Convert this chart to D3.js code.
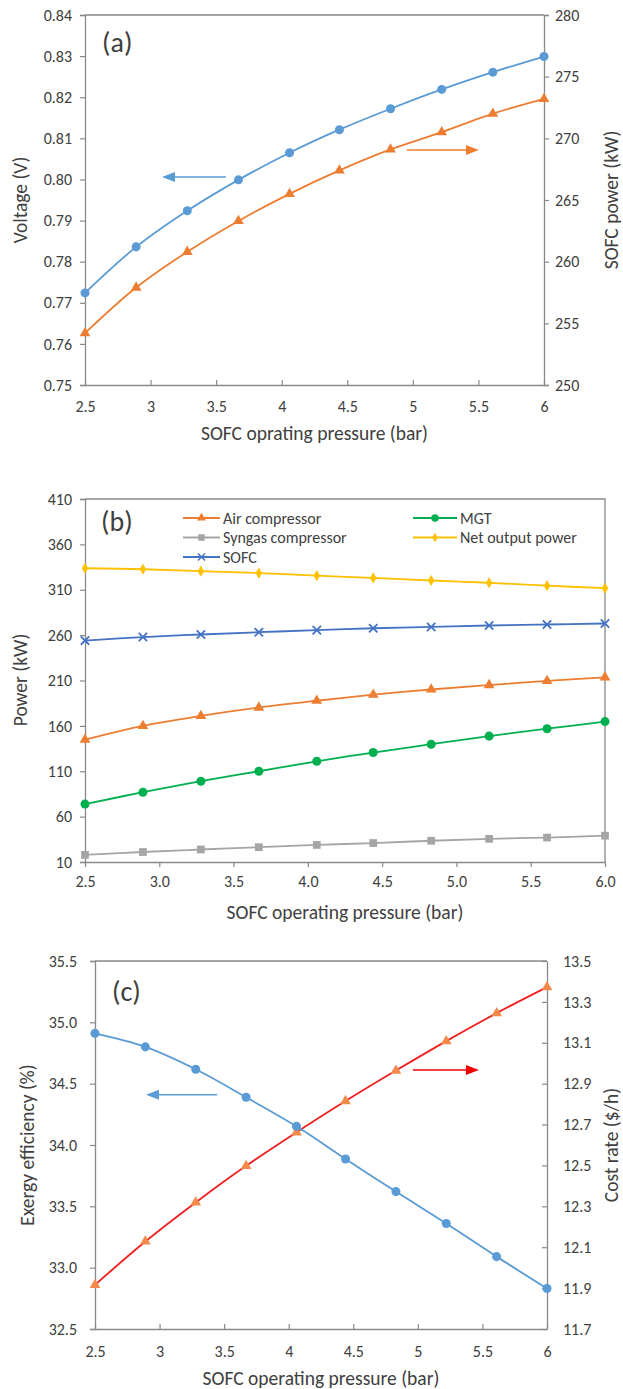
<!DOCTYPE html>
<html>
<head>
<meta charset="utf-8">
<script src="https://cdn.jsdelivr.net/npm/d3@7"></script>
<style>
body { margin: 0; background: #fff; }
text { font-family: Carlito, Lato, sans-serif; fill: #404040; }
</style>
</head>
<body>
<svg width="623" height="1389"></svg>
<script>
// pressure steps shared by all three panels
var pressure = [2.5, 2.89, 3.28, 3.67, 4.06, 4.44, 4.83, 5.22, 5.61, 6.0];

// (a)
var voltage = [0.7724, 0.7836, 0.7924, 0.7999, 0.8065, 0.8121, 0.8172, 0.8219, 0.8261, 0.8299];
var sofcPower = [254.2, 257.9, 260.8, 263.3, 265.5, 267.4, 269.1, 270.5, 272.0, 273.2];
var ticksA = [2.5, 3, 3.5, 4, 4.5, 5, 5.5, 6];
var voltTicks = [0.75, 0.76, 0.77, 0.78, 0.79, 0.80, 0.81, 0.82, 0.83, 0.84];
var powTicks = [250, 255, 260, 265, 270, 275, 280];

// (b)
var airComp = [144.8, 160.0, 171.0, 180.2, 187.7, 194.4, 200.1, 205.0, 209.6, 213.5];
var mgt = [73.8, 86.9, 99.0, 110.0, 121.0, 130.6, 139.8, 148.7, 156.9, 164.7];
var syngas = [17.8, 21.0, 23.8, 26.3, 28.8, 30.9, 33.4, 35.5, 36.9, 39.0];
var netPower = [333.7, 332.6, 330.5, 328.4, 325.5, 323.0, 320.2, 317.7, 314.5, 311.7];
var sofcB = [254.0, 257.9, 260.7, 263.2, 265.5, 267.6, 269.0, 270.6, 271.7, 272.8];
var ticksB = [2.5, 3.0, 3.5, 4.0, 4.5, 5.0, 5.5, 6.0];
var powerTicks = [10, 60, 110, 160, 210, 260, 310, 360, 410];

// (c)
var exergy = [34.91, 34.80, 34.617, 34.389, 34.152, 33.886, 33.62, 33.36, 33.09, 32.83];
var costRate = [11.916, 12.128, 12.319, 12.498, 12.662, 12.815, 12.964, 13.108, 13.245, 13.372];
var exTicks = [32.5, 33.0, 33.5, 34.0, 34.5, 35.0, 35.5];
var costTicks = [11.7, 11.9, 12.1, 12.3, 12.5, 12.7, 12.9, 13.1, 13.3, 13.5];

var svg = d3.select('svg');
var axisColor = "#898989";
var blue = "#5B9BD5", orange = "#ED7D31", gray = "#A5A5A5", gold = "#FFC000",
    green = "#00B050", navy = "#4472C4", red = "#F02020";
var tickFont = "16px", titleFont = "19.5px";

// cross marker for SOFC in (b)
var crossSymbol = {
    draw: function(ctx, size) {
        var r = Math.sqrt(size) / 2;
        ctx.moveTo(-r, -r); ctx.lineTo(r, r);
        ctx.moveTo(r, -r); ctx.lineTo(-r, r);
    }
};

function drawAxis(g, axis, color) {
    g.call(axis);
    g.select(".domain").attr("stroke", color).attr("stroke-width", 1.3);
    g.selectAll(".tick line").attr("stroke", color).attr("stroke-width", 1.2);
    g.selectAll(".tick text").style("font-size", tickFont).attr("fill", "#404040");
}

function drawSeries(g, x, y, values, color, symbol, size, markFill, strokeMark) {
    var pts = pressure.map(function(p, i) { return [p, values[i]]; });
    var line = d3.line()
        .x(function(d) { return x(d[0]); })
        .y(function(d) { return y(d[1]); })
        .curve(d3.curveCatmullRom);
    g.append("path")
        .attr("d", line(pts))
        .attr("fill", "none")
        .attr("stroke", color)
        .attr("stroke-width", 1.8);
    g.selectAll(null).data(pts).enter().append("path")
        .attr("transform", function(d) { return "translate(" + x(d[0]) + "," + y(d[1]) + ")"; })
        .attr("d", d3.symbol().type(symbol).size(size))
        .attr("fill", strokeMark ? "none" : markFill)
        .attr("stroke", strokeMark ? markFill : "none")
        .attr("stroke-width", strokeMark ? 1.8 : 0);
}

function drawArrow(g, x1, x2, y, color) {
    var dir = x2 > x1 ? 1 : -1;
    g.append("line")
        .attr("x1", x1).attr("x2", x2 - dir * 10)
        .attr("y1", y).attr("y2", y)
        .attr("stroke", color).attr("stroke-width", 1.5);
    g.append("path")
        .attr("d", "M" + x2 + "," + y + "L" + (x2 - dir * 13) + "," + (y - 5) + "L" + (x2 - dir * 13) + "," + (y + 5) + "Z")
        .attr("fill", color);
}

function yTitle(text, cx, cy) {
    svg.append("text")
        .attr("transform", "translate(" + cx + "," + cy + ") rotate(-90)")
        .attr("text-anchor", "middle")
        .attr("dominant-baseline", "central")
        .style("font-size", titleFont)
        .text(text);
}

function xTitle(text, cx, cy) {
    svg.append("text")
        .attr("x", cx).attr("y", cy)
        .attr("text-anchor", "middle")
        .attr("dominant-baseline", "central")
        .style("font-size", titleFont)
        .text(text);
}

function panelLabel(text, px, py) {
    svg.append("text")
        .attr("x", px).attr("y", py)
        .attr("dominant-baseline", "central")
        .style("font-size", "28px")
        .attr("fill", "#111")
        .text(text);
}

// ---------- panel (a) ----------
(function() {
    var L = 85, R = 544, T = 15, B = 385;
    var x = d3.scaleLinear().domain([2.5, 6]).range([L, R]);
    var y = d3.scaleLinear().domain([0.75, 0.84]).range([B, T]);
    var y2 = d3.scaleLinear().domain([250, 280]).range([B, T]);
    var g = svg.append("g");

    g.append("line").attr("x1", L).attr("x2", R).attr("y1", T).attr("y2", T)
        .attr("stroke", axisColor).attr("stroke-width", 1.3);

    drawAxis(g.append("g").attr("transform", "translate(0," + B + ")"),
        d3.axisBottom(x).tickValues(ticksA).tickSizeInner(-5).tickSizeOuter(0).tickPadding(16)
          .tickFormat(function(d) { return String(d); }), axisColor);
    drawAxis(g.append("g").attr("transform", "translate(" + L + ",0)"),
        d3.axisLeft(y).tickValues(voltTicks).tickSize(5).tickPadding(8).tickFormat(d3.format(".2f")), axisColor);
    drawAxis(g.append("g").attr("transform", "translate(" + R + ",0)"),
        d3.axisRight(y2).tickValues(powTicks).tickSize(5).tickPadding(6).tickFormat(d3.format("d")), axisColor);

    drawSeries(g, x, y, voltage, blue, d3.symbolCircle, 64, blue);
    drawSeries(g, x, y2, sofcPower, orange, d3.symbolTriangle, 50, orange);

    drawArrow(g, x(3.575), x(3.087), y(0.8006), blue);
    drawArrow(g, x(4.955), x(5.504), y2(269.05), orange);

    panelLabel("(a)", 102, 42);
    yTitle("Voltage (V)", 20, 200);
    yTitle("SOFC power (kW)", 611, 200);
    xTitle("SOFC oprating pressure (bar)", (L + R) / 2, 433);
})();

// ---------- panel (b) ----------
(function() {
    var L = 85, R = 605, T = 499, B = 862;
    var x = d3.scaleLinear().domain([2.5, 6]).range([L, R]);
    var y = d3.scaleLinear().domain([10, 410]).range([B, T]);
    var g = svg.append("g");

    g.append("path").attr("d", "M" + L + "," + T + "H" + R + "V" + B)
        .attr("fill", "none").attr("stroke", axisColor).attr("stroke-width", 1.3);

    drawAxis(g.append("g").attr("transform", "translate(0," + B + ")"),
        d3.axisBottom(x).tickValues(ticksB).tickSize(5).tickSizeOuter(0).tickPadding(9).tickFormat(d3.format(".1f")), axisColor);
    drawAxis(g.append("g").attr("transform", "translate(" + L + ",0)"),
        d3.axisLeft(y).tickValues(powerTicks).tickSize(5).tickPadding(8).tickFormat(d3.format("d")), axisColor);

    var series = [
        { name: "Air compressor", v: airComp, c: orange, s: d3.symbolTriangle, z: 50, col: 0, row: 0 },
        { name: "MGT", v: mgt, c: green, s: d3.symbolCircle, z: 64, col: 1, row: 0 },
        { name: "Syngas compressor", v: syngas, c: gray, s: d3.symbolSquare, z: 60, col: 0, row: 1 },
        { name: "Net output power", v: netPower, c: gold, s: d3.symbolDiamond, z: 36, col: 1, row: 1 },
        { name: "SOFC", v: sofcB, c: navy, s: crossSymbol, z: 70, col: 0, row: 2, stroke: true }
    ];
    series.forEach(function(s) {
        drawSeries(g, x, y, s.v, s.c, s.s, s.z, s.c, s.stroke);
    });

    // legend
    var colX = [183, 413], rowY = [518, 537.5, 557];
    series.forEach(function(s) {
        var lx = colX[s.col], ly = rowY[s.row];
        var lw = s.col === 0 ? 37 : 44;
        var lg = g.append("g");
        lg.append("line").attr("x1", lx).attr("x2", lx + lw).attr("y1", ly).attr("y2", ly)
            .attr("stroke", s.c).attr("stroke-width", 1.8);
        lg.append("path").attr("transform", "translate(" + (lx + lw / 2) + "," + ly + ")")
            .attr("d", d3.symbol().type(s.s).size(s.z * 0.7))
            .attr("fill", s.stroke ? "none" : s.c)
            .attr("stroke", s.stroke ? s.c : "none").attr("stroke-width", 1.5);
        lg.append("text").attr("x", lx + lw + 3).attr("y", ly)
            .attr("dominant-baseline", "central").style("font-size", "16px").text(s.name);
    });

    panelLabel("(b)", 101, 521);
    yTitle("Power (kW)", 20, 680);
    xTitle("SOFC operating pressure (bar)", (L + R) / 2, 912);
})();

// ---------- panel (c) ----------
(function() {
    var L = 95, R = 547, T = 961, B = 1329;
    var x = d3.scaleLinear().domain([2.5, 6]).range([L, R]);
    var y = d3.scaleLinear().domain([32.5, 35.5]).range([B, T]);
    var y2 = d3.scaleLinear().domain([11.7, 13.5]).range([B, T]);
    var g = svg.append("g");

    g.append("line").attr("x1", L).attr("x2", R).attr("y1", T).attr("y2", T)
        .attr("stroke", axisColor).attr("stroke-width", 1.3);

    drawAxis(g.append("g").attr("transform", "translate(0," + B + ")"),
        d3.axisBottom(x).tickValues(ticksA).tickSizeInner(-5).tickSizeOuter(0).tickPadding(17)
          .tickFormat(function(d) { return String(d); }), axisColor);
    drawAxis(g.append("g").attr("transform", "translate(" + L + ",0)"),
        d3.axisLeft(y).tickValues(exTicks).tickSize(5).tickPadding(13).tickFormat(d3.format(".1f")), axisColor);
    drawAxis(g.append("g").attr("transform", "translate(" + R + ",0)"),
        d3.axisRight(y2).tickValues(costTicks).tickSizeInner(-5).tickSizeOuter(0).tickPadding(16).tickFormat(d3.format(".1f")), axisColor);

    drawSeries(g, x, y2, costRate, red, d3.symbolTriangle, 50, "#F5894A");
    drawSeries(g, x, y, exergy, blue, d3.symbolCircle, 64, blue);

    drawArrow(g, x(3.445), x(2.895), y(34.41), blue);
    drawArrow(g, x(4.962), x(5.473), y2(12.967), "#F00000");

    panelLabel("(c)", 112, 991);
    yTitle("Exergy efficiency (%)", 27, 1145);
    yTitle("Cost rate ($/h)", 611, 1145);
    xTitle("SOFC operating pressure (bar)", (L + R) / 2, 1378);
})();
</script>
</body>
</html>
